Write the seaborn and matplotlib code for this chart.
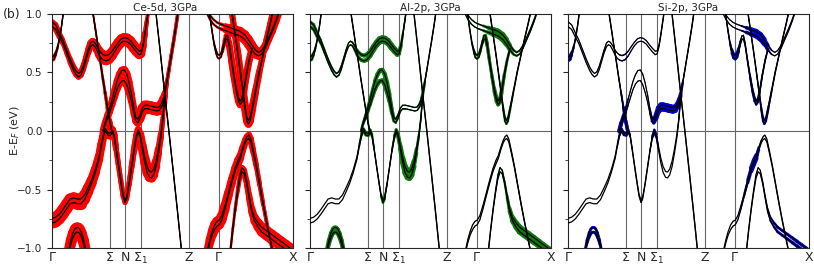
import matplotlib
matplotlib.use('Agg')
import matplotlib.pyplot as plt
from matplotlib.collections import LineCollection
from matplotlib.ticker import MultipleLocator
import numpy as np
import pandas as pd
import seaborn as sns

# k-path (fraction of total path length) and labels
kpath = [0.0, 0.239, 0.303, 0.368, 0.567, 0.692, 1.0]
klabels = ['Γ', 'Σ', 'N', 'Σ$_1$', 'Z', 'Γ', 'X']

titles = ['Ce-5d, 3GPa', 'Al-2p, 3GPa', 'Si-2p, 3GPa']

# each band: k, centre energy, pair splitting, orbital weights (Ce-5d, Al-2p, Si-2p)
k_A = [0.0, 0.015, 0.03, 0.045, 0.06, 0.075, 0.09, 0.1, 0.11, 0.12, 0.13, 0.14, 0.15, 0.16, 0.168, 0.176, 0.185,
       0.195, 0.205, 0.215, 0.225, 0.237, 0.25, 0.262, 0.275, 0.288, 0.3, 0.312, 0.325, 0.338, 0.35, 0.362, 0.37,
       0.378, 0.386, 0.393, 0.4]
e_A = [0.91, 0.885, 0.82, 0.76, 0.68, 0.6, 0.53, 0.495, 0.475, 0.49, 0.54, 0.61, 0.68, 0.735, 0.75, 0.74, 0.71,
       0.67, 0.64, 0.625, 0.62, 0.63, 0.66, 0.7, 0.74, 0.77, 0.78, 0.775, 0.755, 0.72, 0.69, 0.665, 0.67, 0.73,
       0.83, 0.93, 1.03]
s_A = [0.04, 0.04, 0.035, 0.03, 0.03, 0.03, 0.03, 0.03, 0.03, 0.03, 0.03, 0.025, 0.025, 0.03, 0.03, 0.03, 0.035,
       0.04, 0.045, 0.045, 0.045, 0.045, 0.04, 0.035, 0.03, 0.03, 0.03, 0.03, 0.03, 0.03, 0.03, 0.03, 0.025, 0.015,
       0.01, 0.01, 0.01]
ce_A = [0.5, 0.5, 0.45, 0.4, 0.4, 0.45, 0.5, 0.5, 0.5, 0.5, 0.5, 0.5, 0.55, 0.6, 0.6, 0.6, 0.65, 0.7, 0.75, 0.8,
        0.8, 0.8, 0.8, 0.8, 0.85, 0.85, 0.85, 0.85, 0.85, 0.85, 0.85, 0.8, 0.75, 0.6, 0.45, 0.35, 0.3]
al_A = [0.3, 0.3, 0.25, 0.2, 0.15, 0.15, 0.15, 0.15, 0.15, 0.15, 0.1, 0.1, 0.1, 0.1, 0.1, 0.15, 0.2, 0.25, 0.3,
        0.35, 0.35, 0.4, 0.4, 0.4, 0.45, 0.45, 0.45, 0.45, 0.45, 0.45, 0.4, 0.4, 0.35, 0.25, 0.15, 0.1, 0.1]
si_A = [0.05, 0.05, 0.05, 0.05, 0.05, 0.05, 0.05, 0.05, 0.05, 0.05, 0.05, 0.05, 0.05, 0.05, 0.05, 0.05, 0.05,
        0.05, 0.05, 0.1, 0.12, 0.12, 0.1, 0.05, 0.05, 0.05, 0.05, 0.05, 0.05, 0.05, 0.05, 0.05, 0.05, 0.05, 0.05,
        0.05, 0.05]

k_B = [0.0, 0.008, 0.016, 0.024, 0.032, 0.04, 0.048]
e_B = [0.615, 0.626, 0.66, 0.717, 0.797, 0.9, 1.025]
s_B = [0.03, 0.03, 0.025, 0.02, 0.015, 0.01, 0.01]
ce_B = [0.3, 0.25, 0.2, 0.15, 0.1, 0.1, 0.1]
al_B = [0.3, 0.25, 0.15, 0.1, 0.05, 0.05, 0.05]
si_B = [0.35, 0.3, 0.2, 0.1, 0.05, 0.05, 0.05]

k_C = [0.168, 0.18, 0.19, 0.2, 0.21, 0.22, 0.23, 0.24, 0.248]
e_C = [1.03, 0.87, 0.73, 0.6, 0.46, 0.33, 0.2, 0.08, 0.0]
s_C = [0.01, 0.01, 0.01, 0.01, 0.01, 0.01, 0.01, 0.01, 0.01]
ce_C = [0.15, 0.15, 0.15, 0.2, 0.2, 0.25, 0.3, 0.4, 0.5]
al_C = [0.05, 0.05, 0.05, 0.05, 0.05, 0.05, 0.05, 0.1, 0.15]
si_C = [0.05, 0.05, 0.05, 0.05, 0.05, 0.1, 0.2, 0.3, 0.3]

k_D = [0.212, 0.22, 0.23, 0.24, 0.25, 0.26, 0.27, 0.28, 0.29, 0.3, 0.31, 0.32, 0.33, 0.34, 0.348, 0.356, 0.365,
       0.375, 0.385, 0.395, 0.405, 0.415, 0.425, 0.435, 0.445, 0.455, 0.462, 0.468, 0.476, 0.485, 0.495, 0.505,
       0.515, 0.524]
e_D = [0.0, 0.06, 0.12, 0.18, 0.25, 0.32, 0.39, 0.44, 0.47, 0.475, 0.44, 0.37, 0.28, 0.17, 0.1, 0.085, 0.12,
       0.18, 0.205, 0.205, 0.2, 0.195, 0.19, 0.185, 0.19, 0.22, 0.26, 0.31, 0.41, 0.52, 0.645, 0.77, 0.9, 1.03]
s_D = [0.01, 0.02, 0.03, 0.04, 0.05, 0.06, 0.07, 0.08, 0.09, 0.09, 0.09, 0.08, 0.06, 0.04, 0.03, 0.03, 0.03,
       0.03, 0.03, 0.03, 0.03, 0.03, 0.03, 0.03, 0.03, 0.03, 0.03, 0.02, 0.01, 0.01, 0.01, 0.01, 0.01, 0.01]
ce_D = [0.6, 0.6, 0.55, 0.55, 0.55, 0.6, 0.6, 0.65, 0.7, 0.7, 0.7, 0.65, 0.6, 0.6, 0.65, 0.7, 0.8, 0.85, 0.85,
        0.85, 0.85, 0.85, 0.85, 0.85, 0.85, 0.8, 0.7, 0.5, 0.35, 0.3, 0.3, 0.3, 0.3, 0.3]
al_D = [0.2, 0.2, 0.2, 0.25, 0.3, 0.3, 0.35, 0.4, 0.4, 0.4, 0.4, 0.4, 0.35, 0.3, 0.25, 0.2, 0.15, 0.12, 0.1, 0.1,
        0.1, 0.1, 0.1, 0.1, 0.1, 0.15, 0.2, 0.3, 0.15, 0.05, 0.05, 0.05, 0.05, 0.05]
si_D = [0.35, 0.3, 0.25, 0.2, 0.1, 0.05, 0.05, 0.05, 0.05, 0.05, 0.05, 0.05, 0.05, 0.1, 0.2, 0.3, 0.4, 0.45, 0.5,
        0.5, 0.5, 0.5, 0.5, 0.5, 0.45, 0.4, 0.35, 0.3, 0.1, 0.05, 0.05, 0.05, 0.05, 0.05]

k_V1 = [0.0, 0.015, 0.03, 0.045, 0.06, 0.075, 0.09, 0.105, 0.12, 0.135, 0.15, 0.165, 0.18, 0.195, 0.205, 0.214,
        0.222, 0.232, 0.242, 0.25, 0.258, 0.266, 0.275, 0.285, 0.295, 0.303, 0.31, 0.32, 0.33, 0.34, 0.35, 0.358,
        0.366, 0.375, 0.385, 0.395, 0.405, 0.413, 0.422, 0.432, 0.442, 0.452, 0.46, 0.468]
e_V1 = [-0.765, -0.755, -0.73, -0.69, -0.645, -0.6, -0.59, -0.6, -0.6, -0.565, -0.5, -0.43, -0.34, -0.23, -0.12,
        -0.03, 0.01, -0.025, -0.03, 0.0, -0.04, -0.15, -0.28, -0.42, -0.55, -0.6, -0.57, -0.45, -0.31, -0.17,
        -0.05, 0.0, -0.04, -0.14, -0.25, -0.33, -0.37, -0.375, -0.35, -0.28, -0.17, -0.04, 0.1, 0.3]
s_V1 = [0.04, 0.04, 0.04, 0.04, 0.04, 0.04, 0.04, 0.04, 0.04, 0.04, 0.035, 0.03, 0.025, 0.02, 0.02, 0.02, 0.02,
        0.02, 0.02, 0.02, 0.015, 0.01, 0.01, 0.01, 0.015, 0.02, 0.015, 0.01, 0.01, 0.01, 0.015, 0.02, 0.02, 0.03,
        0.04, 0.05, 0.05, 0.05, 0.05, 0.045, 0.035, 0.025, 0.02, 0.02]
ce_V1 = [1.0, 1.0, 1.0, 1.0, 1.0, 1.0, 1.0, 1.0, 1.0, 0.95, 0.9, 0.85, 0.8, 0.75, 0.7, 0.7, 0.7, 0.7, 0.7, 0.7,
         0.6, 0.5, 0.45, 0.45, 0.45, 0.45, 0.45, 0.45, 0.5, 0.55, 0.6, 0.65, 0.7, 0.75, 0.8, 0.85, 0.85, 0.85, 0.8,
         0.7, 0.6, 0.5, 0.4, 0.3]
al_V1 = [0, 0, 0, 0, 0, 0, 0, 0, 0, 0, 0, 0, 0, 0.05, 0.1, 0.2, 0.25, 0.25, 0.25, 0.25, 0.2, 0.1, 0.05, 0.05, 0.1,
         0.3, 0.2, 0.05, 0.05, 0.1, 0.2, 0.3, 0.3, 0.35, 0.45, 0.5, 0.55, 0.55, 0.5, 0.4, 0.25, 0.15, 0.1, 0.1]
si_V1 = [0, 0, 0, 0, 0, 0, 0, 0, 0, 0, 0, 0, 0, 0, 0.05, 0.15, 0.2, 0.2, 0.2, 0.2, 0.1, 0.05, 0, 0, 0, 0.1, 0.05,
         0, 0, 0.05, 0.15, 0.25, 0.2, 0.05, 0, 0, 0, 0, 0, 0, 0, 0, 0.05, 0.1]

k_F = [0.43, 0.45, 0.467, 0.485, 0.505, 0.52, 0.538]
e_F = [1.03, 0.66, 0.33, 0.0, -0.38, -0.67, -1.03]
s_F = [0.01, 0.01, 0.01, 0.01, 0.01, 0.01, 0.01]
ce_F = [0.05, 0.05, 0.05, 0.05, 0.05, 0.05, 0.05]
al_F = [0, 0, 0, 0, 0, 0, 0]
si_F = [0, 0, 0, 0, 0, 0, 0]

k_P = [0.068, 0.078, 0.087, 0.095, 0.1, 0.105, 0.11, 0.115, 0.123, 0.132, 0.142]
e_P = [-1.05, -0.95, -0.89, -0.855, -0.845, -0.842, -0.845, -0.855, -0.89, -0.95, -1.05]
s_P = [0.03, 0.035, 0.04, 0.04, 0.04, 0.04, 0.04, 0.04, 0.04, 0.035, 0.03]
ce_P = [0.9, 0.9, 0.9, 0.9, 0.9, 0.9, 0.9, 0.9, 0.9, 0.9, 0.9]
al_P = [0.35, 0.35, 0.35, 0.35, 0.35, 0.35, 0.35, 0.35, 0.35, 0.35, 0.35]
si_P = [0.2, 0.2, 0.25, 0.25, 0.25, 0.25, 0.25, 0.25, 0.25, 0.2, 0.2]

# U-shaped band at the second Gamma, local max near 0.8 eV, then the V with minimum near 0.24 eV
k_U = [0.652, 0.662, 0.672, 0.68, 0.687, 0.694, 0.701, 0.708, 0.715, 0.722, 0.728, 0.735, 0.745, 0.755, 0.765,
       0.774, 0.781, 0.788, 0.796, 0.806, 0.818, 0.83]
e_U = [1.03, 0.88, 0.75, 0.68, 0.64, 0.63, 0.645, 0.69, 0.75, 0.795, 0.8, 0.74, 0.6, 0.47, 0.35, 0.27, 0.24, 0.26,
       0.34, 0.47, 0.6, 0.7]
s_U = [0.01, 0.015, 0.02, 0.03, 0.03, 0.03, 0.03, 0.03, 0.03, 0.03, 0.03, 0.02, 0.015, 0.02, 0.025, 0.03, 0.03,
       0.03, 0.025, 0.02, 0.015, 0.01]
ce_U = [0.1, 0.1, 0.1, 0.15, 0.15, 0.15, 0.15, 0.2, 0.3, 0.4, 0.5, 0.55, 0.6, 0.6, 0.6, 0.65, 0.65, 0.65, 0.6,
        0.6, 0.6, 0.6]
al_U = [0.05, 0.05, 0.05, 0.1, 0.2, 0.2, 0.2, 0.15, 0.15, 0.2, 0.3, 0.3, 0.25, 0.25, 0.3, 0.35, 0.35, 0.35, 0.3,
        0.25, 0.2, 0.2]
si_U = [0.05, 0.05, 0.1, 0.2, 0.3, 0.3, 0.3, 0.2, 0.1, 0.1, 0.1, 0.1, 0.1, 0.15, 0.2, 0.2, 0.2, 0.2, 0.15, 0.1,
        0.1, 0.1]

k_UP = [0.64, 0.655, 0.67, 0.685, 0.7, 0.72, 0.74, 0.76, 0.78, 0.8, 0.815, 0.83, 0.845, 0.858, 0.87, 0.885, 0.9,
        0.915, 0.93, 0.945]
e_UP = [1.03, 0.97, 0.93, 0.905, 0.89, 0.875, 0.86, 0.845, 0.83, 0.8, 0.76, 0.71, 0.67, 0.655, 0.67, 0.72, 0.79,
        0.86, 0.94, 1.03]
s_UP = [0.03, 0.035, 0.04, 0.04, 0.04, 0.04, 0.04, 0.04, 0.04, 0.04, 0.04, 0.04, 0.035, 0.03, 0.03, 0.025, 0.02,
        0.02, 0.015, 0.01]
ce_UP = [0.2, 0.2, 0.2, 0.2, 0.25, 0.4, 0.6, 0.75, 0.8, 0.8, 0.8, 0.8, 0.75, 0.7, 0.65, 0.6, 0.6, 0.6, 0.6, 0.6]
al_UP = [0.1, 0.1, 0.1, 0.1, 0.1, 0.2, 0.3, 0.45, 0.5, 0.5, 0.45, 0.3, 0.2, 0.2, 0.15, 0.1, 0.1, 0.1, 0.1, 0.1]
si_UP = [0.05, 0.05, 0.05, 0.05, 0.05, 0.1, 0.25, 0.4, 0.45, 0.45, 0.4, 0.2, 0.1, 0.05, 0.05, 0.05, 0.05, 0.05,
         0.05, 0.05]

k_DV = [0.745, 0.758, 0.77, 0.782, 0.793, 0.802, 0.809, 0.815, 0.822, 0.832, 0.845, 0.86, 0.875, 0.89, 0.905, 0.918]
e_DV = [1.03, 0.85, 0.68, 0.5, 0.33, 0.19, 0.1, 0.075, 0.1, 0.2, 0.34, 0.5, 0.64, 0.78, 0.91, 1.03]
s_DV = [0.01, 0.01, 0.01, 0.015, 0.02, 0.025, 0.03, 0.03, 0.03, 0.025, 0.02, 0.015, 0.01, 0.01, 0.01, 0.01]
ce_DV = [0.5, 0.55, 0.6, 0.6, 0.65, 0.7, 0.7, 0.7, 0.7, 0.65, 0.6, 0.55, 0.5, 0.5, 0.5, 0.5]
al_DV = [0.05, 0.05, 0.05, 0.05, 0.1, 0.15, 0.2, 0.2, 0.2, 0.15, 0.1, 0.05, 0.05, 0.05, 0.05, 0.05]
si_DV = [0.05, 0.05, 0.05, 0.05, 0.1, 0.15, 0.2, 0.2, 0.2, 0.15, 0.1, 0.05, 0.05, 0.05, 0.05, 0.05]

k_V2a = [0.645, 0.655, 0.665, 0.675, 0.685, 0.694, 0.705, 0.718, 0.732, 0.746, 0.76, 0.772, 0.782, 0.792, 0.802,
         0.81, 0.817, 0.825, 0.835, 0.848, 0.862, 0.876, 0.89, 0.903, 0.916]
e_V2a = [-1.03, -0.94, -0.87, -0.82, -0.79, -0.78, -0.74, -0.65, -0.54, -0.43, -0.33, -0.265, -0.22, -0.15,
         -0.09, -0.06, -0.05, -0.08, -0.17, -0.3, -0.46, -0.62, -0.77, -0.9, -1.03]
s_V2a = [0.02, 0.025, 0.03, 0.04, 0.04, 0.04, 0.035, 0.03, 0.025, 0.025, 0.025, 0.03, 0.025, 0.02, 0.02, 0.025,
         0.03, 0.025, 0.02, 0.015, 0.01, 0.01, 0.01, 0.01, 0.01]
ce_V2a = [0.7, 0.75, 0.8, 0.85, 0.85, 0.85, 0.85, 0.8, 0.75, 0.7, 0.7, 0.7, 0.65, 0.6, 0.6, 0.6, 0.6, 0.55, 0.5,
          0.45, 0.4, 0.35, 0.3, 0.3, 0.3]
al_V2a = [0.05, 0.05, 0.05, 0.05, 0.05, 0.05, 0.05, 0.05, 0.05, 0.05, 0.05, 0.05, 0.05, 0.05, 0.05, 0.05, 0.05,
          0.05, 0.05, 0.05, 0.05, 0.05, 0.05, 0.05, 0.05]
si_V2a = [0, 0, 0, 0, 0.05, 0.05, 0.05, 0.05, 0.1, 0.2, 0.35, 0.45, 0.35, 0.15, 0.05, 0.05, 0.05, 0.05, 0, 0, 0, 0,
          0, 0, 0]

k_V2b = [0.74, 0.75, 0.76, 0.77, 0.78, 0.789, 0.798, 0.808, 0.818, 0.828, 0.84, 0.855, 0.87, 0.89, 0.91, 0.93,
         0.95, 0.97, 0.99, 1.0]
e_V2b = [-1.03, -0.84, -0.67, -0.52, -0.39, -0.33, -0.35, -0.44, -0.56, -0.67, -0.75, -0.8, -0.84, -0.87, -0.9,
         -0.93, -0.96, -0.99, -1.02, -1.04]
s_V2b = [0.01, 0.01, 0.015, 0.02, 0.03, 0.035, 0.03, 0.02, 0.02, 0.025, 0.03, 0.035, 0.04, 0.04, 0.04, 0.04,
         0.04, 0.04, 0.04, 0.04]
ce_V2b = [0.2, 0.2, 0.25, 0.3, 0.4, 0.5, 0.5, 0.5, 0.55, 0.6, 0.7, 0.8, 0.85, 0.9, 0.9, 0.9, 0.9, 0.9, 0.9, 0.9]
al_V2b = [0, 0, 0.05, 0.05, 0.1, 0.1, 0.1, 0.15, 0.2, 0.3, 0.4, 0.5, 0.5, 0.5, 0.5, 0.5, 0.45, 0.45, 0.45, 0.45]
si_V2b = [0, 0, 0, 0, 0.05, 0.05, 0.05, 0.05, 0.05, 0.1, 0.15, 0.2, 0.25, 0.25, 0.25, 0.3, 0.3, 0.3, 0.3, 0.3]

bands = [
    ('A', k_A, e_A, s_A, ce_A, al_A, si_A),
    ('B', k_B, e_B, s_B, ce_B, al_B, si_B),
    ('C', k_C, e_C, s_C, ce_C, al_C, si_C),
    ('D', k_D, e_D, s_D, ce_D, al_D, si_D),
    ('V1', k_V1, e_V1, s_V1, ce_V1, al_V1, si_V1),
    ('F', k_F, e_F, s_F, ce_F, al_F, si_F),
    ('P', k_P, e_P, s_P, ce_P, al_P, si_P),
    ('U', k_U, e_U, s_U, ce_U, al_U, si_U),
    ('UP', k_UP, e_UP, s_UP, ce_UP, al_UP, si_UP),
    ('DV', k_DV, e_DV, s_DV, ce_DV, al_DV, si_DV),
    ('V2a', k_V2a, e_V2a, s_V2a, ce_V2a, al_V2a, si_V2a),
    ('V2b', k_V2b, e_V2b, s_V2b, ce_V2b, al_V2b, si_V2b),
]

# long table: every band drawn as two slightly split lines
rows = []
for name, k, e, s, ce, al, si in bands:
    for side in (0.5, -0.5):
        for i in range(len(k)):
            rows.append({'line': f'{name}{side:+}', 'k': k[i], 'E': e[i] + side * s[i],
                         'ce': ce[i], 'al': al[i], 'si': si[i]})
df = pd.DataFrame(rows)

sns.set_style('ticks')
plt.rcParams['font.family'] = ['DejaVu Sans']
plt.rcParams['axes.linewidth'] = 0.8

fig = plt.figure(figsize=(8.14, 2.67), dpi=100)
lefts = [0.0639, 0.3808, 0.6978]
panels = [('ce', '#ff0000'), ('al', '#0a7a0a'), ('si', '#0000cc')]
fat_scale = 8  # points of line width for weight 1

for i, (col, colour) in enumerate(panels):
    ax = fig.add_axes([lefts[i], 0.07, 0.296, 0.879])
    for x in kpath[1:-1]:
        ax.axvline(x, color='0.4', lw=0.8, zorder=1)
    ax.axhline(0, color='0.4', lw=0.8, zorder=1)

    # fat bands
    for line, g in df.groupby('line', sort=False):
        pts = g[['k', 'E']].to_numpy()
        segs = np.stack([pts[:-1], pts[1:]], axis=1)
        w = g[col].to_numpy()
        widths = fat_scale * 0.5 * (w[:-1] + w[1:])
        ax.add_collection(LineCollection(segs, linewidths=widths, colors=colour,
                                         capstyle='round', joinstyle='round', zorder=2))

    sns.lineplot(data=df, x='k', y='E', units='line', estimator=None, sort=False,
                 color='black', lw=0.9, ax=ax, zorder=3, legend=False)

    ax.set_xlim(0, 1)
    ax.set_ylim(-1, 1)
    ax.set_xticks(kpath)
    ax.set_xticklabels(klabels, fontsize=9)
    ax.tick_params(axis='x', length=0, pad=2)
    ax.yaxis.set_major_locator(MultipleLocator(0.5))
    ax.yaxis.set_minor_locator(MultipleLocator(0.25))
    ax.tick_params(axis='y', which='major', length=3.5, width=0.8, labelsize=7.5, direction='out')
    ax.tick_params(axis='y', which='minor', length=2, width=0.6, direction='out')
    ax.set_xlabel('')
    if i == 0:
        ax.set_title(titles[i], fontsize=7.5, pad=2, x=0.47)
        ax.set_ylabel('E-E$_F$ (eV)', fontsize=8)
        ax.yaxis.set_label_coords(-0.125, 0.5)
    else:
        ax.set_title(titles[i], fontsize=7.5, pad=2)
        ax.set_ylabel('')
        ax.tick_params(axis='y', labelleft=False)

fig.text(0.003, 0.944, '(b)', fontsize=9, va='center')

fig.savefig('out.png', dpi=100)
